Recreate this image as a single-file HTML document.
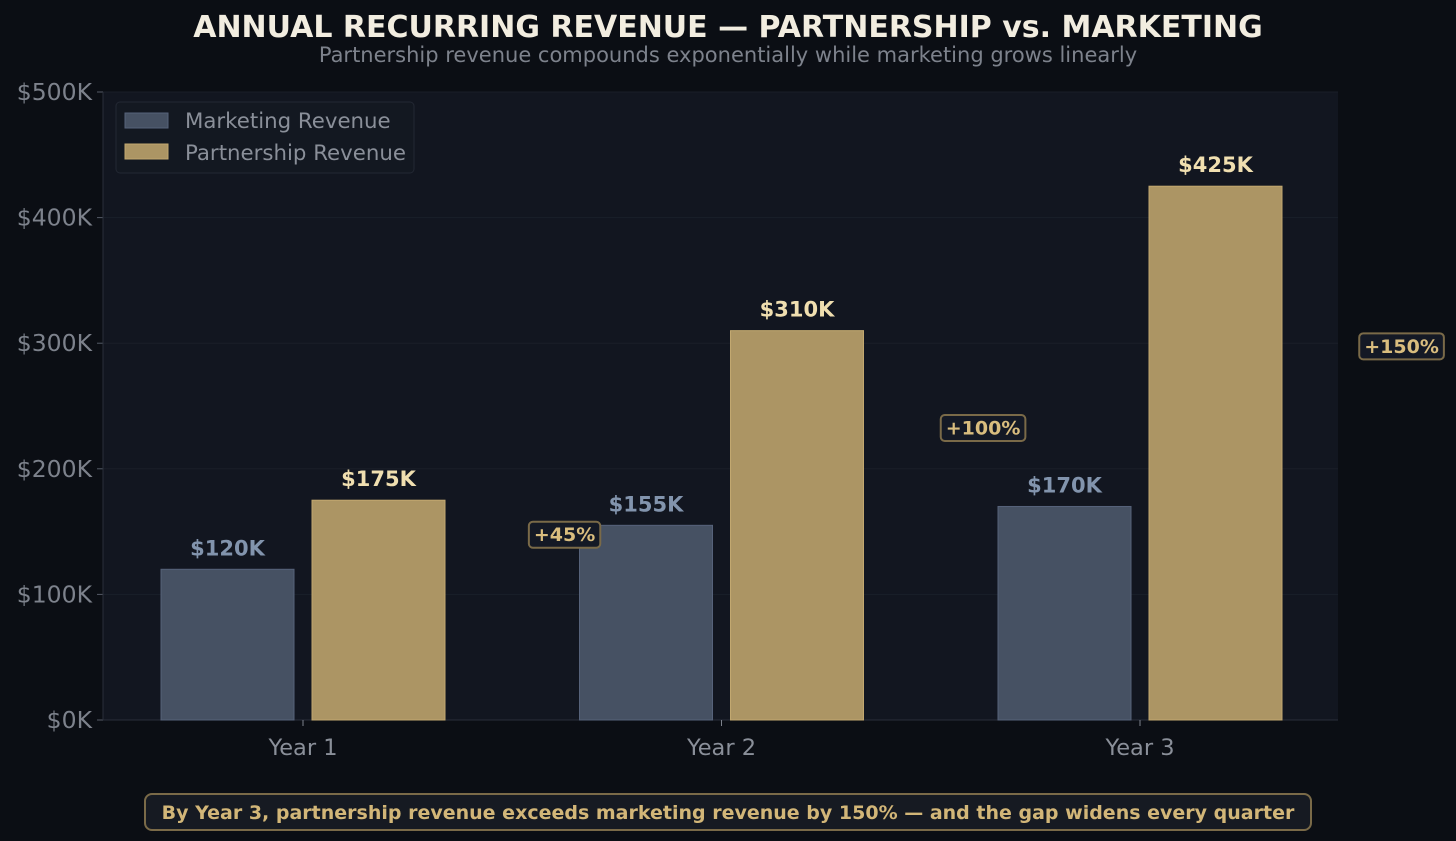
<!DOCTYPE html>
<html><head><meta charset="utf-8"><style>
body{margin:0;background:#0b0e14;width:1456px;height:837px;overflow:hidden;font-family:"DejaVu Sans","Liberation Sans",sans-serif}
</style></head><body>
<svg id="c" width="1456" height="837" xmlns="http://www.w3.org/2000/svg"></svg>
<script>
const categories=["Year 1","Year 2","Year 3"];
const marketing=[120,155,170];
const partnership=[175,310,425];
const growthLabels=["+45%","+100%","+150%"];
const yTicks=[0,100,200,300,400,500];
const NS="http://www.w3.org/2000/svg";
const svg=document.getElementById('c');
const X0=103,X1=1338,Y0=720,Y1=92,step=418.5,c0=303,BW=133;
const y=v=>Y0-(v/500)*(Y0-Y1);
const xc=i=>c0+i*step;
function el(t,a,txt){const e=document.createElementNS(NS,t);for(const k in a)e.setAttribute(k,a[k]);if(txt!=null)e.textContent=txt;svg.appendChild(e);return e;}
let e;
e=el('rect',{x:X0,y:Y1,width:X1-X0,height:Y0-Y1,fill:'#121620'});

e=el('text',{x:728,y:37,'text-anchor':'middle','font-size':30,'font-weight':'bold',fill:'#f2ede0'},'ANNUAL RECURRING REVENUE — PARTNERSHIP vs. MARKETING');

e=el('text',{x:728,y:62,'text-anchor':'middle','font-size':21,fill:'#7d828c'},'Partnership revenue compounds exponentially while marketing grows linearly');

yTicks.forEach(t=>{
 if(t>0){e=el('line',{x1:X0,x2:X1,y1:y(t),y2:y(t),stroke:'#1a1f29','stroke-width':1});
 }
 e=el('line',{x1:X0-6,x2:X0,y1:y(t),y2:y(t),stroke:'#555b66'});
 
 e=el('text',{x:X0-11,y:y(t)+8,'text-anchor':'end','font-size':23.5,fill:'#7d828c'},'$'+t+'K');
 
});
e=el('line',{x1:X0,x2:X1,y1:Y0,y2:Y0,stroke:'#2a2f3a'});

e=el('line',{x1:X0,x2:X0,y1:Y1,y2:Y0,stroke:'#2a2f3a'});

function badge(ax,ay,label){
 const t=el('text',{x:ax,y:ay+6.5,'text-anchor':'middle','font-size':19,'font-weight':'bold',fill:'#d9bd7e'},label);
 
 
 const w=t.getComputedTextLength()+10;
 const r=el('rect',{x:ax-w/2,y:ay-13,width:w,height:26,rx:4,fill:'#141925',stroke:'#7a6a48','stroke-width':2});
 
 
 svg.insertBefore(r,t);
}
categories.forEach((c,i)=>{
 const cx=xc(i);
 e=el('line',{x1:cx,x2:cx,y1:Y0,y2:Y0+6,stroke:'#7d828c'});
 
 e=el('text',{x:cx,y:Y0+35,'text-anchor':'middle','font-size':22.5,fill:'#8a8f99'},c);
 
 const mx=cx-9-BW, px=cx+9;
 e=el('rect',{x:mx,y:y(marketing[i]),width:BW,height:Y0-y(marketing[i]),fill:'#465163',stroke:'#56627a','stroke-width':1});
 
 e=el('text',{x:mx+BW/2,y:y(marketing[i])-14,'text-anchor':'middle','font-size':21,'font-weight':'bold',fill:'#8294ad'},'$'+marketing[i]+'K');
 
 e=el('rect',{x:px,y:y(partnership[i]),width:BW,height:Y0-y(partnership[i]),fill:'#ac9564',stroke:'#c2a870','stroke-width':1});
 
 e=el('text',{x:px+BW/2,y:y(partnership[i])-14,'text-anchor':'middle','font-size':21,'font-weight':'bold',fill:'#f0dfb0'},'$'+partnership[i]+'K');
 
});
categories.forEach((c,i)=>{
 badge(xc(i+1)-0.375*step, y((marketing[i]+partnership[i])/2), growthLabels[i]);
});
e=el('rect',{x:116,y:102,width:298,height:71,rx:4,fill:'#131821',stroke:'#232833'});

e=el('rect',{x:125,y:113,width:43,height:15,fill:'#465163',stroke:'#56627a'});

e=el('text',{x:185,y:128,'font-size':21.3,fill:'#8a8f99'},'Marketing Revenue');

e=el('rect',{x:125,y:144,width:43,height:15,fill:'#ac9564',stroke:'#c2a870'});

e=el('text',{x:185,y:160,'font-size':21.3,fill:'#8a8f99'},'Partnership Revenue');

e=el('rect',{x:145,y:794,width:1166,height:36,rx:7,fill:'#161a22',stroke:'#7a6a48','stroke-width':2});

e=el('text',{x:728,y:819,'text-anchor':'middle','font-size':19,'font-weight':'bold',fill:'#d2b678'},'By Year 3, partnership revenue exceeds marketing revenue by 150% — and the gap widens every quarter');

</script>
</body></html>
